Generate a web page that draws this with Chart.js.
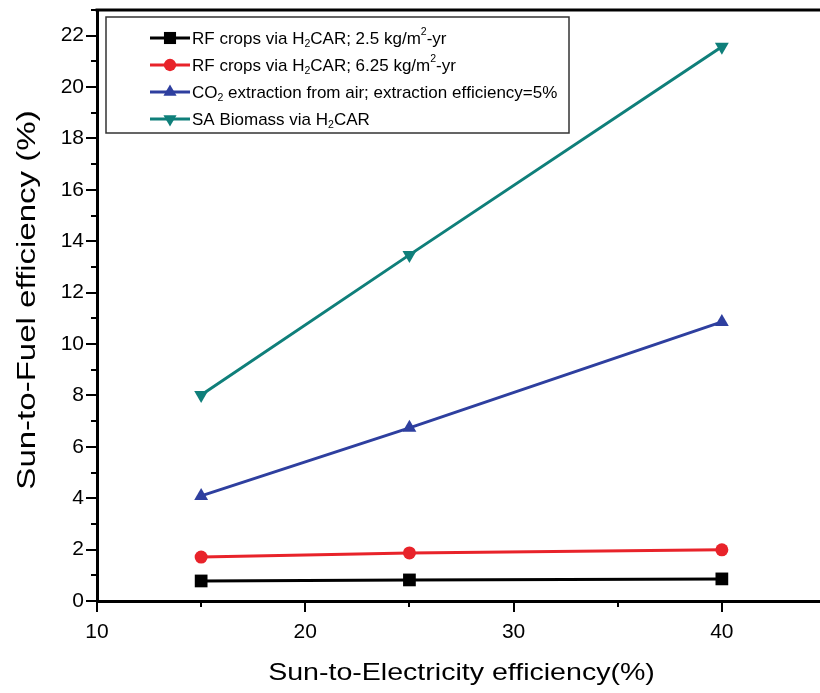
<!DOCTYPE html>
<html>
<head>
<meta charset="utf-8">
<script src="https://cdn.jsdelivr.net/npm/chart.js@4"></script>
<style>
  html, body { margin: 0; padding: 0; background: #fff; overflow: hidden; }
  #caixa { width: 835px; height: 693px; }
</style>
</head>
<body>
<div id="caixa"><canvas id="grafico"></canvas></div>
<script>
// dados
const eficienciaEletricidade = [15, 25, 40];
const rfCrops25 = [0.78, 0.82, 0.86];
const rfCrops625 = [1.71, 1.87, 1.99];
const extracaoCO2 = [4.09, 6.74, 10.86];
const saBiomassa = [8.02, 13.47, 21.57];

const nomesSeries = [
  "RF crops via H₂CAR; 2.5 kg/m²-yr",
  "RF crops via H₂CAR; 6.25 kg/m²-yr",
  "CO₂ extraction from air; extraction efficiency=5%",
  "SA Biomass via H₂CAR"
];
const coresSeries = ["#000000", "#e8232a", "#2e3f9f", "#0f7f7a"];
const marcadores = ["rect", "circle", "triangle", "triangle"];
const rotacoes = [0, 0, 0, 180];
const raios = [9, 6.5, 8, 8];

const ticksX = [10, 20, 30, 40];
const ticksY = [0, 2, 4, 6, 8, 10, 12, 14, 16, 18, 20, 22];

const tituloX = "Sun-to-Electricity efficiency(%)";
const tituloY = "Sun-to-Fuel efficiency (%)";

const fonte = "'Liberation Sans', Arial, sans-serif";

function pontos(valores) {
  return eficienciaEletricidade.map((x, i) => ({ x: x, y: valores[i] }));
}

// desenha texto com ₂ subscrito e ² sobrescrito
function textoRico(ctx, texto, x, y, tamanho) {
  let cx = x;
  for (const ch of texto) {
    if (ch === "₂" || ch === "²") {
      ctx.font = `${tamanho * 0.62}px ${fonte}`;
      const dy = ch === "₂" ? tamanho * 0.28 : -tamanho * 0.38;
      ctx.fillText("2", cx, y + dy);
      cx += ctx.measureText("2").width;
    } else {
      ctx.font = `${tamanho}px ${fonte}`;
      ctx.fillText(ch, cx, y);
      cx += ctx.measureText(ch).width;
    }
  }
}

const pluginMoldura = {
  id: "moldura",
  afterDraw(chart) {
    const { ctx, chartArea, scales } = chart;
    ctx.save();
    ctx.strokeStyle = "#000";

    // linha de cima
    ctx.lineWidth = 3;
    ctx.beginPath();
    ctx.moveTo(chartArea.left - 1.5, chartArea.top);
    ctx.lineTo(chartArea.right, chartArea.top);
    ctx.stroke();

    // marcas dos eixos
    ctx.lineWidth = 2;
    for (let v = 10; v <= 45; v += 5) {
      const px = Math.round(scales.x.getPixelForValue(v));
      const tam = v % 10 === 0 ? 11 : 6;
      ctx.beginPath();
      ctx.moveTo(px, chartArea.bottom);
      ctx.lineTo(px, chartArea.bottom + tam);
      ctx.stroke();
    }
    for (let v = 0; v <= 23; v++) {
      const py = Math.round(scales.y.getPixelForValue(v));
      const tam = v % 2 === 0 ? 11 : 6;
      ctx.beginPath();
      ctx.moveTo(chartArea.left, py);
      ctx.lineTo(chartArea.left - tam, py);
      ctx.stroke();
    }

    // titulos dos eixos
    ctx.fillStyle = "#000";
    ctx.textAlign = "center";
    ctx.textBaseline = "alphabetic";
    ctx.save();
    ctx.translate((chartArea.left + chartArea.right) / 2, 680);
    ctx.scale(1.19, 1);
    ctx.font = `24px ${fonte}`;
    ctx.fillText(tituloX, 0, 0);
    ctx.restore();

    ctx.save();
    ctx.translate(35, 300);
    ctx.rotate(-Math.PI / 2);
    ctx.scale(1.27, 1);
    ctx.font = `26px ${fonte}`;
    ctx.fillText(tituloY, 0, 0);
    ctx.restore();

    // legenda
    const lx = chartArea.left + 9;
    const ly = chartArea.top + 7;
    ctx.lineWidth = 1.5;
    ctx.strokeStyle = "#333";
    ctx.strokeRect(lx, ly, 463, 116);

    ctx.textAlign = "left";
    ctx.textBaseline = "middle";
    nomesSeries.forEach((nome, i) => {
      const y = ly + 21 + i * 27;
      ctx.strokeStyle = coresSeries[i];
      ctx.fillStyle = coresSeries[i];
      ctx.lineWidth = 3;
      ctx.beginPath();
      ctx.moveTo(lx + 44, y);
      ctx.lineTo(lx + 84, y);
      ctx.stroke();
      Chart.helpers.drawPoint(ctx, {
        pointStyle: marcadores[i],
        rotation: rotacoes[i],
        radius: raios[i] * 0.95,
        borderWidth: 0
      }, lx + 64, y);
      ctx.fillStyle = "#000";
      textoRico(ctx, nome, lx + 86, y + 1, 17);
    });

    ctx.restore();
  }
};

const valoresSeries = [rfCrops25, rfCrops625, extracaoCO2, saBiomassa];

new Chart(document.getElementById("grafico"), {
  type: "line",
  data: {
    datasets: valoresSeries.map((valores, i) => ({
      label: nomesSeries[i],
      data: pontos(valores),
      borderColor: coresSeries[i],
      backgroundColor: coresSeries[i],
      borderWidth: 3,
      pointStyle: marcadores[i],
      rotation: rotacoes[i],
      pointRadius: raios[i],
      pointBorderWidth: 0,
      tension: 0
    }))
  },
  options: {
    responsive: true,
    maintainAspectRatio: false,
    animation: false,
    layout: { padding: { top: 10, right: 3, left: 0, bottom: 0 } },
    plugins: {
      legend: { display: false },
      tooltip: { enabled: false }
    },
    scales: {
      x: {
        type: "linear",
        min: 10,
        max: 45,
        afterFit: (escala) => {
          escala.height = 92;
          escala.paddingLeft = 0;
          escala.paddingRight = 0;
        },
        afterBuildTicks: (escala) => {
          escala.ticks = ticksX.map(v => ({ value: v }));
        },
        grid: { drawOnChartArea: false, drawTicks: false },
        border: { color: "#000", width: 3 },
        ticks: {
          padding: 19,
          color: "#000",
          font: { family: fonte, size: 21 }
        }
      },
      y: {
        type: "linear",
        min: 0,
        max: 23,
        afterFit: (escala) => {
          escala.width = 97;
          escala.paddingTop = 0;
          escala.paddingBottom = 0;
        },
        afterBuildTicks: (escala) => {
          escala.ticks = ticksY.map(v => ({ value: v }));
        },
        grid: { drawOnChartArea: false, drawTicks: false },
        border: { color: "#000", width: 3 },
        ticks: {
          padding: 13,
          color: "#000",
          font: { family: fonte, size: 21 }
        }
      }
    }
  },
  plugins: [pluginMoldura]
});
</script>
</body>
</html>
